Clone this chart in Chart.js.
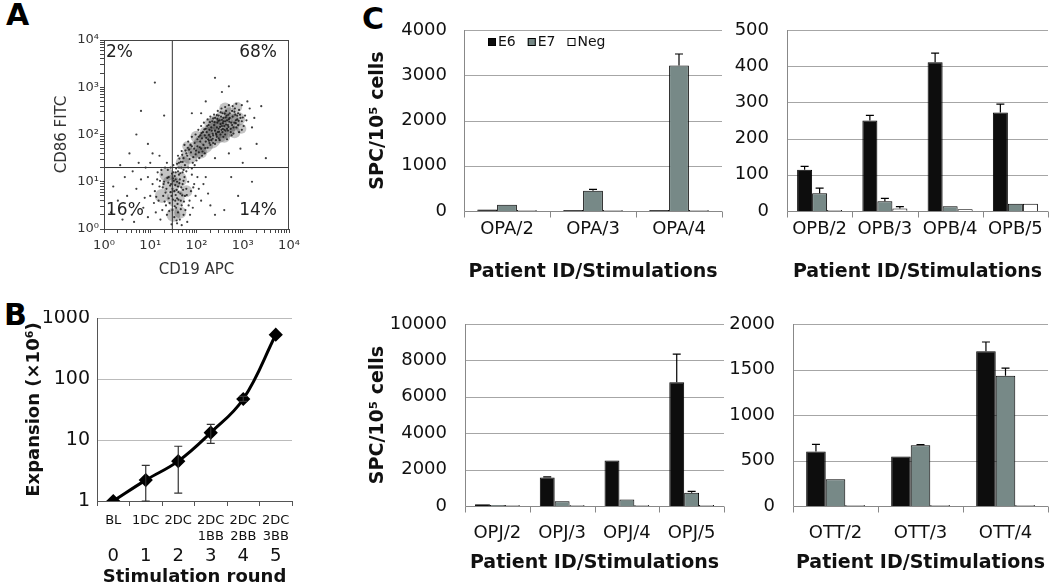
<!DOCTYPE html>
<html>
<head>
<meta charset="utf-8">
<title>Figure</title>
<script src="https://cdn.jsdelivr.net/npm/chart.js@4.4.1/dist/chart.umd.min.js"></script>
<style>
body { margin: 0; width: 1050px; height: 584px; overflow: hidden; background: #fff; position: relative; }
canvas { position: absolute; }
.tag { position: absolute; font: bold 30px 'DejaVu Sans', sans-serif; line-height: 1; color: #000; }
</style>
</head>
<body>
<div class="tag" style="left:6px;top:0px">A</div>
<div class="tag" style="left:4px;top:300px">B</div>
<div class="tag" style="left:362px;top:4px">C</div>
<canvas id="chartA" width="270" height="270" style="left:30px;top:20px"></canvas>
<canvas id="chartB" width="300" height="280" style="left:0px;top:310px"></canvas>
<canvas id="chartC1" width="370" height="270" style="left:360px;top:20px"></canvas>
<canvas id="chartC2" width="350" height="270" style="left:700px;top:20px"></canvas>
<canvas id="chartC3" width="370" height="274" style="left:360px;top:310px"></canvas>
<canvas id="chartC4" width="350" height="274" style="left:700px;top:310px"></canvas>
<script>
// ---- A: flow cytometry, events as [log10 CD19, log10 CD86]
const decadeLabels = ['10⁰', '10¹', '10²', '10³', '10⁴'];
const gateCD19 = 30, gateCD86 = 20;
const quadPct = ['2%', '68%', '16%', '14%'];
// dense cores of the two populations: [log CD19, log CD86, radius px]
const cloudCores = [
  [1.70,1.40,7],[1.85,1.55,8],[2.00,1.68,9],[2.15,1.80,10],[2.30,1.93,11],[2.45,2.05,11],[2.60,2.15,11],[2.75,2.25,9],
  [2.90,2.33,7],[2.40,2.25,7],[2.55,2.35,7],[2.20,2.05,6],[2.60,1.95,6],[2.30,2.22,6],[2.72,2.45,6],[2.10,1.62,6],[2.82,2.05,6],
  [2.00,1.95,6],[2.62,2.55,6],[2.88,2.58,5],[2.97,2.12,5],[1.80,1.75,5],
  [1.45,0.95,9],[1.55,0.65,9],[1.35,1.15,7],[1.62,1.05,8],[1.50,0.30,7],[1.25,0.70,7],[1.78,0.80,6],[1.65,0.35,6]
];
const eventsLog = [
  [1.62,1.30],[1.70,1.42],[1.75,1.35],[1.80,1.55],[1.85,1.48],[1.88,1.62],[1.92,1.40],[1.95,1.70],[1.98,1.58],[2.02,1.75],
  [2.05,1.62],[2.08,1.85],[2.10,1.70],[2.12,1.92],[2.15,1.78],[2.18,1.98],[2.20,1.85],[2.22,2.05],[2.25,1.90],[2.28,2.10],
  [2.30,1.95],[2.32,2.15],[2.35,2.02],[2.38,2.20],[2.40,2.08],[2.42,1.88],[2.45,2.25],[2.48,2.12],[2.50,2.30],[2.52,2.00],
  [2.55,2.18],[2.58,2.35],[2.60,2.10],[2.62,2.28],[2.65,2.40],[2.68,2.20],[2.70,2.32],[2.72,2.45],[2.75,2.25],[2.78,2.38],
  [2.80,2.15],[2.82,2.48],[2.85,2.30],[2.88,2.40],[2.90,2.20],[2.92,2.52],[2.95,2.35],[2.98,2.10],[1.55,1.20],[1.65,1.18],
  [1.72,1.25],[1.78,1.22],[1.82,1.30],[1.90,1.28],[1.96,1.35],[2.00,1.45],[2.06,1.50],[2.12,1.55],[2.18,1.60],[2.24,1.72],
  [2.30,1.78],[2.36,1.82],[2.44,1.95],[2.50,1.88],[2.56,2.05],[2.62,2.00],[2.68,2.08],[2.74,2.12],[2.80,2.02],[2.86,2.15],
  [2.92,2.05],[2.98,2.28],[3.02,2.18],[3.05,2.40],[3.08,2.30],[1.60,1.55],[1.68,1.65],[1.74,1.78],[1.82,1.85],[1.90,1.95],
  [1.98,2.00],[2.04,2.10],[2.10,2.18],[2.16,2.25],[2.24,2.32],[2.30,2.38],[2.38,2.42],[2.46,2.50],[2.54,2.55],[2.62,2.58],
  [2.70,2.62],[2.78,2.60],[2.86,2.65],[2.40,2.35],[2.48,2.40],[2.56,2.45],[2.64,2.50],[2.34,2.28],[2.26,2.20],[2.20,2.12],
  [2.14,2.05],[2.08,1.98],[2.02,1.90],[1.96,1.82],[1.90,1.75],[1.84,1.68],[1.78,1.60],[1.72,1.50],[1.66,1.42],[2.44,2.15],
  [2.52,2.22],[2.58,2.28],[2.66,2.30],[2.72,2.35],[2.84,2.42],[2.90,2.45],[2.46,2.05],[2.54,2.10],[2.60,2.18],[2.66,2.12],
  [2.74,2.05],[2.82,2.25],[2.88,2.32],[2.94,2.42],[2.36,1.98],[2.32,1.88],[2.28,1.82],[2.40,1.80],[2.48,1.92],[2.58,1.95],
  [2.66,1.90],[2.76,1.98],[2.42,2.02],[2.51,2.16],[2.57,2.24],[2.63,2.36],[2.69,2.42],[2.33,2.08],[2.27,1.99],[2.21,1.93],
  [2.47,2.29],[2.53,2.38],[2.61,2.44],[2.39,2.26],[2.45,2.33],[2.77,2.50],[2.83,2.55],[2.71,2.27],[2.64,2.21],[2.55,2.31],
  [1.93,1.52],[1.99,1.66],[2.07,1.73],[2.13,1.64],[2.19,1.71],[2.27,1.87],[2.35,1.91],[2.43,1.99],[2.49,2.06],[2.57,2.12],
  [2.63,2.08],[2.69,2.16],[2.77,2.20],[2.85,2.24],[2.91,2.29],[3.00,2.36],[2.52,2.47],[2.44,2.41],[2.36,2.34],[2.29,2.26],
  [2.23,2.18],[2.17,2.11],[2.11,2.03],[2.05,1.95],[1.87,1.78],[1.81,1.72],[1.76,1.66],[1.69,1.57],[1.63,1.49],[1.58,1.38],
  [2.70,3.02],[2.55,2.90],[3.10,2.70],[3.20,2.15],[1.30,2.40],[0.80,2.50],[1.10,3.10],[2.40,3.20],[3.40,2.60],[2.20,2.70],
  [1.90,2.45],[2.95,1.70],[3.30,1.80],[3.00,1.40],[2.70,1.60],[2.40,1.50],[3.15,2.55],[2.98,2.62],[3.25,2.35],[2.10,2.45],
  [1.40,1.10],[1.45,0.95],[1.50,1.20],[1.52,0.80],[1.55,1.05],[1.58,0.65],[1.60,0.90],[1.62,1.15],[1.65,0.75],[1.68,0.50],
  [1.70,0.95],[1.72,0.30],[1.75,0.70],[1.35,0.85],[1.30,1.00],[1.28,0.70],[1.25,1.15],[1.20,0.90],[1.18,0.60],[1.15,1.05],
  [1.10,0.80],[1.05,0.95],[1.00,0.70],[0.95,1.10],[1.42,0.55],[1.48,0.40],[1.52,0.25],[1.56,0.45],[1.60,0.35],[1.64,0.20],
  [1.66,0.60],[1.78,0.85],[1.82,1.00],[1.85,0.60],[1.88,0.80],[1.92,0.45],[1.95,0.95],[1.98,0.70],[2.02,1.10],[2.05,0.85],
  [1.38,1.25],[1.44,1.30],[1.50,1.35],[1.56,1.28],[1.62,1.40],[1.34,0.50],[1.26,0.40],[1.22,0.20],[1.12,0.35],[1.08,0.55],
  [1.46,0.70],[1.54,0.60],[1.58,1.00],[1.64,1.05],[1.70,1.20],[1.74,1.10],[1.76,0.40],[1.80,0.15],[1.86,0.30],[1.90,1.15],
  [1.46,0.10],[1.58,0.12],[1.68,0.08],[1.36,0.30],[1.32,1.30],[1.24,1.25],[1.16,1.20],[1.40,0.65],[1.48,0.85],[1.53,1.12],
  [1.61,0.78],[1.67,0.88],[1.73,0.58],[1.79,0.72],[2.10,0.60],[2.15,0.95],[2.20,1.10],[2.25,0.75],[1.43,0.92],[1.51,1.02],
  [1.57,0.83],[1.63,0.97],[1.69,0.71],[1.37,1.08],[1.33,0.77],[1.47,1.17],[1.59,0.53],[1.71,0.83],[1.29,0.95],[1.41,0.38],
  [1.44,0.78],[1.49,0.62],[1.53,0.48],[1.57,0.18],[1.61,0.62],[1.66,0.42],[1.39,0.98],[1.31,0.58],[1.27,0.88],[1.21,1.02],
  [1.13,0.68],[1.54,0.93],[1.60,1.22],[1.67,1.30],[1.49,1.07],[1.55,0.72],[1.72,1.02],[1.83,0.50],[1.93,0.88],[1.36,1.40],
  [0.30,0.60],[0.45,1.10],[0.60,0.30],[0.70,0.85],[0.85,0.45],[0.90,1.30],[0.55,1.60],[0.75,1.40],[0.20,0.90],[0.40,0.20],
  [0.65,0.15],[0.95,0.25],[0.80,1.05],[0.50,0.70],[1.00,1.40],[0.35,1.35],[1.05,1.60],[0.70,2.00],[0.95,1.80],[1.20,1.55],
  [2.60,0.40],[2.90,0.70],[3.20,1.00],[2.40,0.30],[3.50,1.50],[0.15,0.35],[0.62,1.22],[0.88,0.66],[2.30,0.50],[2.75,1.10]
];

// ---- B: expansion per stimulation round
const roundLabels = [['BL'], ['1DC'], ['2DC'], ['2DC', '1BB'], ['2DC', '2BB'], ['2DC', '3BB']];
const roundNums = ['0', '1', '2', '3', '4', '5'];
const expansion = [1, 2.2, 4.5, 13.2, 47, 532];
const expLow = [null, 1.0, 1.35, 8.8, 43, null];
const expHigh = [null, 3.85, 7.9, 18, 52, null];
const expTicks = [1, 10, 100, 1000];

// ---- C: SPC per 10^5 cells, E6 / E7 / Neg
const seriesNames = ['E6', 'E7', 'Neg'];
const seriesFill = ['#0d0d0d', '#778987', '#ffffff'];
const opaLabels = ['OPA/2', 'OPA/3', 'OPA/4'];
const opaE6 = [35, 10, 10], opaE7 = [140, 445, 3215], opaNeg = [5, 5, 5];
const opaE6Err = [0, 0, 0], opaE7Err = [0, 35, 255], opaNegErr = [0, 0, 0];
const opbLabels = ['OPB/2', 'OPB/3', 'OPB/4', 'OPB/5'];
const opbE6 = [114, 250, 411, 272], opbE7 = [49, 27, 13, 20], opbNeg = [1, 7, 5, 20];
const opbE6Err = [9, 14, 25, 23], opbE7Err = [14, 8, 0, 0], opbNegErr = [0, 5, 0, 0];
const opjLabels = ['OPJ/2', 'OPJ/3', 'OPJ/4', 'OPJ/5'];
const opjE6 = [100, 1560, 2495, 6800], opjE7 = [25, 255, 360, 730], opjNeg = [15, 20, 20, 20];
const opjE6Err = [0, 40, 0, 1540], opjE7Err = [0, 0, 0, 75], opjNegErr = [0, 0, 0, 0];
const ottLabels = ['OTT/2', 'OTT/3', 'OTT/4'];
const ottE6 = [598, 543, 1700], ottE7 = [294, 668, 1431], ottNeg = [11, 5, 5];
const ottE6Err = [80, 0, 102], ottE7Err = [0, 6, 85], ottNegErr = [0, 0, 0];

Chart.defaults.font.family = "'DejaVu Sans', sans-serif";
Chart.defaults.color = '#111';
Chart.defaults.animation = false;
Chart.defaults.responsive = false;
Chart.defaults.devicePixelRatio = 1;
Chart.defaults.plugins.legend.display = false;
Chart.defaults.plugins.tooltip.enabled = false;

// scale boxes get fixed sizes and no label overhang, so plot areas land where the figure has them
const fixBox = (w, h) => s => { if (w != null) s.width = w; if (h != null) s.height = h; s.paddingTop = s.paddingBottom = s.paddingLeft = s.paddingRight = 0; };

const errorBars = {
    id: 'errorBars',
    afterDatasetsDraw(chart) {
        const ctx = chart.ctx, ys = chart.scales.y;
        chart.data.datasets.forEach((ds, di) => {
            if (!ds.errHi && !ds.errPlus) return;
            chart.getDatasetMeta(di).data.forEach((el, i) => {
                let lo = ds.errLo ? ds.errLo[i] : ds.data[i];
                let hi = ds.errHi ? ds.errHi[i] : (ds.errPlus[i] ? ds.data[i] + ds.errPlus[i] : null);
                if (lo == null || hi == null) return;
                let y0 = ys.getPixelForValue(lo), y1 = ys.getPixelForValue(hi), w = ds.capWidth || 4;
                ctx.save(); ctx.strokeStyle = ds.errColor || '#000'; ctx.lineWidth = 1.2; ctx.beginPath();
                ctx.moveTo(el.x, y0); ctx.lineTo(el.x, y1); ctx.moveTo(el.x - w, y1); ctx.lineTo(el.x + w, y1);
                if (ds.errLo) { ctx.moveTo(el.x - w, y0); ctx.lineTo(el.x + w, y0); }
                ctx.stroke(); ctx.restore();
            });
        });
    }
};

// gridlines, axis lines and category tick marks of the bar panels
const barAxes = {
    id: 'barAxes',
    beforeDatasetsDraw(chart) {
        const ctx = chart.ctx, a = chart.chartArea, ys = chart.scales.y, xs = chart.scales.x, n = chart.data.labels.length;
        const b = Math.round(a.bottom) + 0.5, l = Math.round(a.left) + 0.5;
        ctx.save(); ctx.lineWidth = 1; ctx.strokeStyle = '#a6a6a6'; ctx.beginPath();
        ys.ticks.forEach(t => { if (!t.value) return; let y = Math.round(ys.getPixelForValue(t.value)) + 0.5; ctx.moveTo(a.left, y); ctx.lineTo(a.right, y); });
        ctx.stroke();
        ctx.strokeStyle = '#888'; ctx.beginPath(); ctx.moveTo(l, a.top); ctx.lineTo(l, b); ctx.lineTo(a.right, b);
        for (let i = 0; i <= n; i++) { let x = Math.round(xs.getPixelForValue(i - 0.5)) + 0.5; ctx.moveTo(x, b); ctx.lineTo(x, b + 6); }
        ctx.stroke(); ctx.restore();
    }
};

const barLegend = {
    id: 'barLegend',
    afterDraw(chart) {
        const ctx = chart.ctx; let x = chart.chartArea.left + 24, y = chart.chartArea.top + 12;
        ctx.save(); ctx.font = "14px 'DejaVu Sans'"; ctx.textBaseline = 'middle';
        chart.data.datasets.forEach(ds => {
            ctx.fillStyle = ds.backgroundColor; ctx.fillRect(x, y - 4, 8, 8);
            ctx.strokeStyle = '#000'; ctx.lineWidth = 1; ctx.strokeRect(x + 0.5, y - 3.5, 7, 7);
            ctx.fillStyle = '#111'; ctx.fillText(ds.label, x + 10, y);
            x += 10 + ctx.measureText(ds.label).width + 12;
        });
        ctx.restore();
    }
};

const flowFrame = {
    id: 'flowFrame',
    afterDraw(chart) {
        const ctx = chart.ctx, a = chart.chartArea;
        ctx.save(); ctx.strokeStyle = '#444'; ctx.lineWidth = 1; ctx.strokeRect(a.left + 0.5, a.top + 0.5, a.width - 1, a.height);
        ctx.font = "17px 'DejaVu Sans'"; ctx.fillStyle = '#222'; ctx.textBaseline = 'middle';
        ctx.textAlign = 'left'; ctx.fillText(quadPct[0], a.left + 2, a.top + 13); ctx.fillText(quadPct[2], a.left + 2, a.bottom - 18);
        ctx.textAlign = 'right'; ctx.fillText(quadPct[1], a.right - 12, a.top + 13); ctx.fillText(quadPct[3], a.right - 12, a.bottom - 18);
        ctx.restore();
    }
};

let logMinor = [];
for (let d = 0; d < 4; d++) for (let m = 1; m < 10; m++) logMinor.push(m * Math.pow(10, d));
logMinor.push(10000);
const decadeLabel = v => { let e = Math.round(Math.log10(v)); return Math.abs(Math.log10(v) - e) < 1e-9 ? decadeLabels[e] : ''; };

function flowAxis(title, horiz) {
    return {
        type: 'logarithmic', min: 1, max: 10000, position: horiz ? 'bottom' : 'left',
        afterBuildTicks: s => { s.ticks = logMinor.map(v => ({ value: v })); },
        grid: { drawOnChartArea: false, tickLength: 4, color: '#444' }, border: { color: '#444' },
        ticks: { autoSkip: false, maxRotation: 0, padding: horiz ? 5 : 1, font: { size: 13 }, color: '#333', callback: decadeLabel },
        title: { display: true, text: title, font: { size: 15 }, color: '#333', padding: horiz ? { top: 0, bottom: 11 } : { top: 23, bottom: 0 } },
        afterFit: horiz ? fixBox(null, 61) : fixBox(74, null)
    };
}

new Chart(document.getElementById('chartA'), {
    type: 'scatter',
    data: { datasets: [
        { type: 'line', data: [{ x: gateCD19, y: 1 }, { x: gateCD19, y: 10000 }], borderColor: '#333', borderWidth: 1, pointRadius: 0 },
        { type: 'line', data: [{ x: 1, y: gateCD86 }, { x: 10000, y: gateCD86 }], borderColor: '#333', borderWidth: 1, pointRadius: 0 },
        { data: eventsLog.map(([a, b]) => ({ x: Math.pow(10, a), y: Math.pow(10, b) })), pointRadius: 1.1, borderWidth: 0, backgroundColor: 'rgba(15,15,15,0.8)' },
        { type: 'bubble', data: cloudCores.map(([a, b, r]) => ({ x: Math.pow(10, a), y: Math.pow(10, b), r })), borderWidth: 0, backgroundColor: 'rgba(60,60,60,0.3)' }
    ] },
    options: { layout: { padding: { top: 20, right: 9, left: 0, bottom: 0 } }, scales: { x: flowAxis('CD19 APC', true), y: flowAxis('CD86 FITC', false) } },
    plugins: [flowFrame]
});

new Chart(document.getElementById('chartB'), {
    type: 'line',
    data: { labels: roundLabels, datasets: [{ data: expansion, errLo: expLow, errHi: expHigh, capWidth: 4, errColor: '#333',
        borderColor: '#000', backgroundColor: '#000', borderWidth: 3, tension: 0.4, pointStyle: 'rectRot', pointRadius: 5 }] },
    options: {
        layout: { padding: { top: 8, right: 7, left: 0, bottom: 0 } },
        scales: {
            x: { type: 'category', offset: true, weight: 0, grid: { offset: true, drawOnChartArea: false, tickLength: 5, color: '#555' }, border: { color: '#555' },
                 ticks: { font: { size: 13 }, padding: 7, autoSkip: false, maxRotation: 0 }, afterFit: fixBox(null, 45) },
            x2: { type: 'category', labels: roundNums, offset: true, position: 'bottom', weight: 1, grid: { display: false, drawTicks: false }, border: { display: false },
                  ticks: { font: { size: 18 }, padding: 0, autoSkip: false, maxRotation: 0 },
                  title: { display: true, text: 'Stimulation round', font: { size: 18, weight: 'bold' }, padding: { top: 0, bottom: 2 } },
                  afterFit: fixBox(null, 44) },
            y: { type: 'logarithmic', min: 1, max: 1000, afterBuildTicks: s => { s.ticks = expTicks.map(v => ({ value: v })); },
                 ticks: { font: { size: 19 }, padding: 7, callback: v => String(v) }, grid: { drawTicks: false, color: '#bbb' }, border: { color: '#555' },
                 title: { display: true, text: 'Expansion (×10⁶)', font: { size: 18, weight: 'bold' }, padding: { top: 24, bottom: 0 } },
                 afterFit: fixBox(97, null) }
        }
    },
    plugins: [errorBars]
});

function barPanel(id, labels, vals, errs, yMax, yStep, o) {
    return new Chart(document.getElementById(id), {
        type: 'bar',
        data: { labels, datasets: seriesNames.map((n, k) => ({ label: n, data: vals[k], errPlus: errs[k], capWidth: 4, backgroundColor: seriesFill[k],
            borderColor: '#000', borderWidth: 1, categoryPercentage: 0.69, barPercentage: 1, minBarLength: 1 })) },
        options: {
            layout: { padding: { top: o.top, right: o.right, left: 0, bottom: 0 } },
            scales: {
                x: { grid: { display: false, drawTicks: false }, border: { display: false },
                     ticks: { font: { size: 18 }, padding: o.xPad, autoSkip: false, maxRotation: 0 },
                     title: { display: true, text: 'Patient ID/Stimulations', font: { size: 19, weight: 'bold' }, padding: { top: 0, bottom: o.titlePad } },
                     afterFit: fixBox(null, o.xH) },
                y: { min: 0, max: yMax, ticks: { stepSize: yStep, font: { size: 18 }, padding: o.yPad, callback: v => String(v) },
                     grid: { display: false, drawTicks: false }, border: { display: false },
                     title: { display: !!o.yTitle, text: 'SPC/10⁵ cells', font: { size: 19, weight: 'bold' }, padding: { top: 6.6, bottom: 0 } },
                     afterFit: fixBox(o.yW, null) }
            }
        },
        plugins: o.legend ? [barAxes, errorBars, barLegend] : [barAxes, errorBars]
    });
}

barPanel('chartC1', opaLabels, [opaE6, opaE7, opaNeg], [opaE6Err, opaE7Err, opaNegErr], 4000, 1000,
    { top: 10, right: 8, yW: 104, yPad: 17, xH: 79, xPad: 8, titlePad: 6.6, yTitle: true, legend: true });
barPanel('chartC2', opbLabels, [opbE6, opbE7, opbNeg], [opbE6Err, opbE7Err, opbNegErr], 500, 100,
    { top: 10, right: 2, yW: 87, yPad: 18, xH: 79, xPad: 8, titlePad: 6.6 });
barPanel('chartC3', opjLabels, [opjE6, opjE7, opjNeg], [opjE6Err, opjE7Err, opjNegErr], 10000, 2000,
    { top: 14, right: 6, yW: 105, yPad: 18, xH: 78, xPad: 17, titlePad: 9.6, yTitle: true });
barPanel('chartC4', ottLabels, [ottE6, ottE7, ottNeg], [ottE6Err, ottE7Err, ottNegErr], 2000, 500,
    { top: 14, right: 2, yW: 93, yPad: 18, xH: 78, xPad: 17, titlePad: 9.6 });
</script>
</body>
</html>
